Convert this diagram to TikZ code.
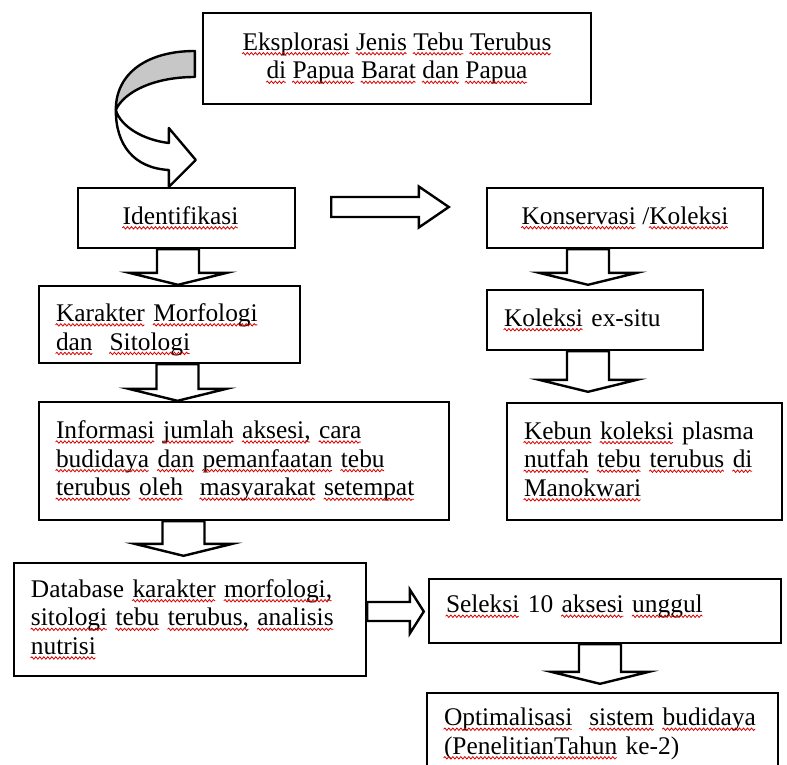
\documentclass[tikz,border=0pt]{standalone}
\usepackage{fontspec}
\setmainfont{Liberation Serif}
\usepackage{xcolor}
\usepackage{tikz}
\usetikzlibrary{
    calc,
    decorations.pathmorphing
}
% spell-check wave under a word
\newsavebox{\wvbox}
\newcommand{\wv}[1]{\sbox{\wvbox}{#1}\usebox{\wvbox}\llap{\tikz[baseline=0pt]\draw[red!85!black, line width=0.4pt, decorate, decoration={snake, amplitude=0.6pt, segment length=2pt}] (0pt,-1.7pt) -- (\wd\wvbox,-1.7pt);}}
\tikzset{
    block/.style={
        rectangle,
        draw=black,
        line width=1.2pt,
        fill=white,
        align=center,
        inner sep=0pt,
        font=\fontsize{12.7}{14.3}\selectfont
    },
    leftblock/.style={
        block,
        align=left,
        inner xsep=8.5pt
    },
    blockarrow/.style={
        draw=black,
        fill=white,
        line width=1.2pt,
        line join=miter
    },
    downarrow/.style={
        to path={let \p1=(\tikztostart), \p2=(\tikztotarget) in
            (\x1-10.5pt,\y1) -- (\x1-10.5pt,\y2+6pt) -- (\x1-24.5pt,\y2+6pt) -- (\x1,\y2)
            -- (\x1+24.5pt,\y2+6pt) -- (\x1+10.5pt,\y2+6pt) -- (\x1+10.5pt,\y1) -- cycle}
    },
    rightarrow/.style n args={3}{
        to path={let \p1=(\tikztostart), \p2=(\tikztotarget) in
            (\x1,\y1+#1) -- (\x2-#3,\y1+#1) -- (\x2-#3,\y1+#2) -- (\x2,\y1)
            -- (\x2-#3,\y1-#2) -- (\x2-#3,\y1-#1) -- (\x1,\y1-#1) -- cycle}
    },
    twistband/.style={
        draw=black,
        fill=black!22,
        line width=1.2pt,
        line join=round
    }
}

\begin{document}
\begin{tikzpicture}[x=0.5pt, y=-0.5pt]
\useasboundingbox (0,0) rectangle (787,765);
\clip (0,0) rectangle (787,765);

\node[block, minimum width=194pt, minimum height=45.5pt] (explor) at (397,58.5)
    {\wv{Eksplorasi} \wv{Jenis} \wv{Tebu} \wv{Terubus}\\\wv{di} \wv{Papua} \wv{Barat} \wv{dan} \wv{Papua}};
\node[block, minimum width=108.5pt, minimum height=30pt] (ident) at (186.5,218) {\wv{Identifikasi}\hspace*{6pt}};
\node[block, minimum width=138pt, minimum height=30pt] (konserv) at (625,218) {\wv{Konservasi} /\wv{Koleksi}};

\node[leftblock, text width=113.5pt, minimum height=38.5pt] (karakter) at (169.5,324.5)
    {\rule{0pt}{14pt}\wv{Karakter} \wv{Morfologi}\\\wv{dan}\ \ \wv{Sitologi}};
\node[leftblock, text width=91pt, minimum height=30pt] (exsitu) at (595,320) {\wv{Koleksi} ex-situ};

\node[leftblock, text width=188pt, minimum height=59pt] (info) at (244,461)
    {\wv{Informasi} \wv{jumlah} \wv{aksesi,} \wv{cara}\\\wv{budidaya} \wv{dan} \wv{pemanfaatan} \wv{tebu}\\\wv{terubus} \wv{oleh}\ \ \wv{masyarakat} \wv{setempat}};
\node[leftblock, text width=120.5pt, minimum height=58.5pt] (kebun) at (644.5,461.5)
    {\wv{Kebun} \wv{koleksi} plasma\\\wv{nutfah} \wv{tebu} \wv{terubus} \wv{di}\\\wv{Manokwari}};

\node[leftblock, text width=159pt, minimum height=56.5pt] (database) at (190,619.5)
    {Database \wv{karakter} \wv{morfologi,}\\\wv{sitologi} \wv{tebu} \wv{terubus,} \wv{analisis}\\\wv{nutrisi}};
\node[leftblock, text width=159pt, minimum height=32pt] (seleksi) at (605,611) {\wv{Seleksi} 10 \wv{aksesi} \wv{unggul}\rule[-7pt]{0pt}{1pt}};
\node[leftblock, text width=158.5pt, minimum height=41pt] (optimal) at (602.5,734)
    {\wv{Optimalisasi}\ \ \wv{sistem} \wv{budidaya}\\\wv{(PenelitianTahun} ke-2)};

% curved arrow from the top box
\begin{scope}[shift={(explor.west)}]
\draw[twistband, fill=white] (-86,51.5) .. controls (-81,68.5) and (-58,81.5) .. (-33,84.5)
    -- (-33,69.5) -- (-6,101.5) -- (-33,128.5) -- (-33,111.5)
    .. controls (-68,109.5) and (-86,86.5) .. cycle;
\draw[twistband] (-7,-7.5) .. controls (-53,-7.5) and (-86,13.5) .. (-86,51.5)
    .. controls (-78,33.5) and (-48,18.5) .. (-7,18.5) -- cycle;
\end{scope}

\draw[blockarrow] ($(ident.east)+(35,-11)$) to[rightarrow={5pt}{10.25pt}{15pt}] ($(konserv.west)+(-37,-11)$);
\draw[blockarrow] ($(database.east)+(0,-8)$) to[rightarrow={4.75pt}{11pt}{7pt}] ($(seleksi.west)+(-4,0)$);

\draw[blockarrow] (178,0 |- ident.south) to[downarrow] (178,0 |- karakter.north);
\draw[blockarrow] (177.5,0 |- karakter.south) to[downarrow] (177.5,0 |- info.north);
\draw[blockarrow] (183.5,0 |- info.south) to[downarrow] ($(183.5,0 |- database.north)+(0,-6)$);
\draw[blockarrow] (588,0 |- konserv.south) to[downarrow] ($(588,0 |- exsitu.north)+(0,-4)$);
\draw[blockarrow] (588,0 |- exsitu.south) to[downarrow] ($(588,0 |- kebun.north)+(0,-10)$);
\draw[blockarrow] (600,0 |- seleksi.south) to[downarrow] ($(600,0 |- optimal.north)+(0,-8)$);
\end{tikzpicture}
\end{document}
